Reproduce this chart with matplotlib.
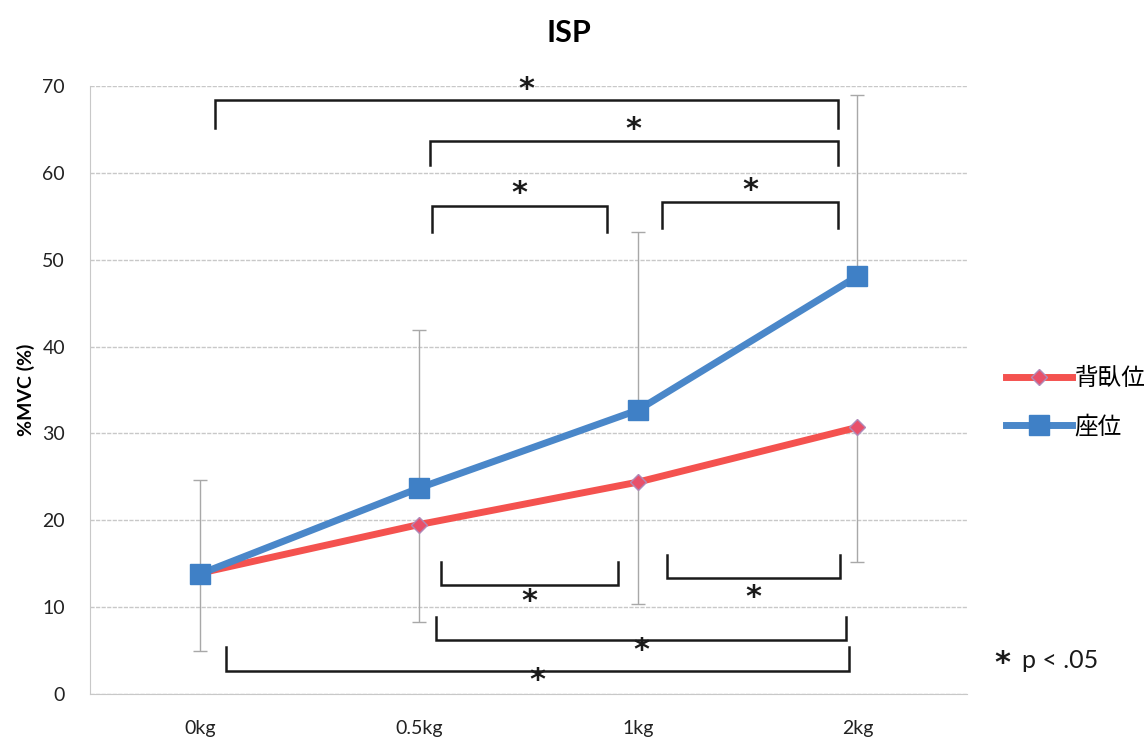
import matplotlib.pyplot as plt
import numpy as np

plt.rcParams['font.family'] = ['Lato', 'Noto Sans CJK JP', 'DejaVu Sans']

loads = ['0kg', '0.5kg', '1kg', '2kg']
supine = [13.9, 19.5, 24.4, 30.7]       # 背臥位
sitting = [13.8, 23.7, 32.7, 48.1]      # 座位
supine_sd = [9.0, 11.2, 14.0, 15.5]     # drawn downward
sitting_sd = [10.8, 18.2, 20.5, 20.9]   # drawn upward

red = '#F4524F'
blue = '#4A87C9'

fig = plt.figure(figsize=(11.45, 7.40), dpi=100)
ax = fig.add_axes([0.0786, 0.0622, 0.766, 0.8216])

x = np.arange(len(loads))

ax.errorbar(x, sitting, yerr=[np.zeros(4), sitting_sd], fmt='none',
            ecolor='#a8a8a8', elinewidth=1, capsize=5, capthick=1, zorder=2)
ax.errorbar(x, supine, yerr=[supine_sd, np.zeros(4)], fmt='none',
            ecolor='#a8a8a8', elinewidth=1, capsize=5, capthick=1, zorder=2)

ax.plot(x, supine, color=red, lw=5, marker='D', markersize=8,
        markerfacecolor='#e8506a', markeredgecolor='#b08ab8', label='背臥位', zorder=3)
ax.plot(x, sitting, color=blue, lw=5, marker='s', markersize=15,
        markerfacecolor='#3f80c6', markeredgecolor='#3f80c6', label='座位', zorder=4)

ax.set_xlim(-0.5, 3.5)
ax.set_ylim(0, 70)
ax.set_xticks(x)
ax.set_xticklabels(loads)
ax.set_yticks(range(0, 71, 10))
ax.tick_params(length=0, labelsize=14, colors='#222222')
ax.tick_params(axis='x', pad=19)
ax.tick_params(axis='y', pad=18)
ax.grid(axis='y', color='#c8c8c8', lw=1, ls=(0, (3, 1)))
ax.set_axisbelow(True)
for s in ['top', 'right']:
    ax.spines[s].set_visible(False)
ax.spines['left'].set_color('#c8c8c8')
ax.spines['bottom'].set_color('#c8c8c8')

ax.set_ylabel('%MVC (%)', fontsize=14, fontweight='bold', labelpad=5)
fig.text(0.497, 0.955, 'ISP', ha='center', va='center', fontsize=22, fontweight='bold')

# significance brackets: (x0, x1, y_line, y_end, star_y)
brackets = [
    (0.07, 2.91, 68.4, 65.2, 69.6),
    (1.05, 2.91, 63.7, 60.9, 65.0),
    (1.06, 1.86, 56.2, 53.2, 57.6),
    (2.11, 2.91, 56.7, 53.6, 58.0),
    (1.10, 1.91, 12.5, 15.2, 10.6),
    (2.13, 2.92, 13.3, 16.0, 11.1),
    (1.08, 2.95, 6.2, 8.9, 5.0),
    (0.12, 2.96, 2.6, 5.4, 1.6),
]
for x0, x1, yl, ye, ys in brackets:
    ax.plot([x0, x0, x1, x1], [ye, yl, yl, ye], color='#1a1a1a', lw=1.8,
            solid_joinstyle='miter', zorder=5, clip_on=False)
    ax.text((x0 + x1) / 2, ys, '*', ha='center', va='center', fontsize=22,
            family='DejaVu Sans', fontweight='bold', color='#1a1a1a', clip_on=False)

ax.legend(loc='center left', bbox_to_anchor=(1.02, 0.48), frameon=False,
          fontsize=17, handlelength=2.8, labelspacing=1.05, handletextpad=0.1)

fig.text(0.868, 0.104, '*', ha='left', va='center', fontsize=22,
         family='DejaVu Sans', fontweight='bold', color='#1a1a1a')
fig.text(0.893, 0.108, 'p < .05', ha='left', va='center', fontsize=18, color='#1a1a1a')

fig.savefig('out.png', dpi=100)
